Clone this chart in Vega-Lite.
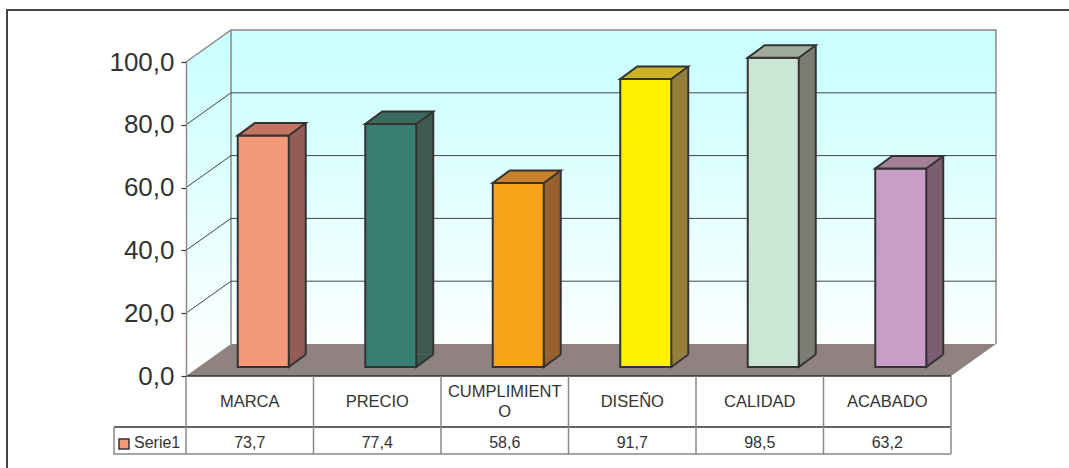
{
  "$schema": "https://vega.github.io/schema/vega-lite/v6.json",
  "width": 765,
  "height": 314,
  "autosize": {"type": "none"},
  "padding": {"left": 186, "top": 62, "right": 118, "bottom": 92},
  "background": "white",
  "config": {
    "view": {"stroke": null},
    "font": "Liberation Sans",
    "locale": {"number": {"decimal": ",", "thousands": ".", "grouping": [3], "currency": ["", " €"]}},
    "axis": {"title": null}
  },
  "data": {
    "values": [
      {"cat": "MARCA", "value": 73.7},
      {"cat": "PRECIO", "value": 77.4},
      {"cat": "CUMPLIMIENTO", "value": 58.6},
      {"cat": "DISEÑO", "value": 91.7},
      {"cat": "CALIDAD", "value": 98.5},
      {"cat": "ACABADO", "value": 63.2}
    ]
  },
  "resolve": {"scale": {"fill": "independent"}},
  "layer": [
    {
      "data": {"values": [{}]},
      "mark": {"type": "point", "shape": "M0,0 L0,-314 L45,-346 L810,-346 L810,-32 L45,-32 Z", "size": 4, "filled": true, "opacity": 1, "strokeWidth": 0,
        "fill": {"gradient": "linear", "x1": 0, "y1": 0, "x2": 0, "y2": 1, "stops": [{"offset": 0, "color": "#c8ffff"}, {"offset": 1, "color": "#ffffff"}]}},
      "encoding": {
        "x": {"datum": "MARCA", "type": "nominal", "bandPosition": 0, "scale": {"domain": ["MARCA", "PRECIO", "CUMPLIMIENTO", "DISEÑO", "CALIDAD", "ACABADO"], "paddingInner": 0, "paddingOuter": 0}},
        "y": {"datum": 0, "type": "quantitative", "scale": {"domain": [0, 100], "nice": false}}
      }
    },
    {
      "data": {"values": [{}]},
      "mark": {"type": "point", "shape": "M0,-314 L45,-346 L810,-346 L810,-32 M45,-346 L45,-32", "size": 4, "filled": false, "opacity": 1, "stroke": "#8e8886", "strokeWidth": 1.5},
      "encoding": {
        "x": {"datum": "MARCA", "type": "nominal", "bandPosition": 0, "scale": {"domain": ["MARCA", "PRECIO", "CUMPLIMIENTO", "DISEÑO", "CALIDAD", "ACABADO"], "paddingInner": 0, "paddingOuter": 0}},
        "y": {"datum": 0, "type": "quantitative", "scale": {"domain": [0, 100], "nice": false}}
      }
    },
    {
      "data": {"values": [{"v": 20}, {"v": 40}, {"v": 60}, {"v": 80}]},
      "mark": {"type": "point", "shape": "M0,0 L45,-32 L810,-32", "size": 4, "filled": false, "opacity": 1, "stroke": "#444444", "strokeWidth": 1},
      "encoding": {
        "x": {"datum": "MARCA", "type": "nominal", "bandPosition": 0, "scale": {"domain": ["MARCA", "PRECIO", "CUMPLIMIENTO", "DISEÑO", "CALIDAD", "ACABADO"], "paddingInner": 0, "paddingOuter": 0}},
        "y": {"field": "v", "type": "quantitative", "scale": {"domain": [0, 100], "nice": false}}
      }
    },
    {
      "data": {"values": [{}]},
      "mark": {"type": "point", "shape": "M0,0 L765,0 L810,-32 L45,-32 Z", "size": 4, "filled": true, "opacity": 1, "strokeWidth": 0, "fill": "#8f8280"},
      "encoding": {
        "x": {"datum": "MARCA", "type": "nominal", "bandPosition": 0, "scale": {"domain": ["MARCA", "PRECIO", "CUMPLIMIENTO", "DISEÑO", "CALIDAD", "ACABADO"], "paddingInner": 0, "paddingOuter": 0}},
        "y": {"datum": 0, "type": "quantitative", "scale": {"domain": [0, 100], "nice": false}}
      }
    },
    {
      "mark": {"type": "bar", "width": 17, "xOffset": 47.5, "yOffset": -21.5, "y2Offset": -21.5, "opacity": 1, "strokeWidth": 0},
      "encoding": {
        "x": {"field": "cat", "type": "nominal", "scale": {"domain": ["MARCA", "PRECIO", "CUMPLIMIENTO", "DISEÑO", "CALIDAD", "ACABADO"], "paddingInner": 0, "paddingOuter": 0}},
        "y": {"field": "value", "type": "quantitative", "scale": {"domain": [0, 100], "nice": false}},
        "y2": {"datum": 0},
        "fill": {"field": "cat", "type": "nominal", "legend": null, "scale": {"domain": ["MARCA", "PRECIO", "CUMPLIMIENTO", "DISEÑO", "CALIDAD", "ACABADO"], "range": ["#925c54", "#3d5a51", "#99602f", "#94803c", "#7b7c72", "#7d5d72"]}}
      }
    },
    {
      "mark": {"type": "point", "shape": "M0,-12.5 L0,0 L17,-12.5", "size": 4, "filled": true, "opacity": 1, "xOffset": 39, "yOffset": -9, "stroke": "#333333", "strokeWidth": 2},
      "encoding": {
        "x": {"field": "cat", "type": "nominal", "scale": {"domain": ["MARCA", "PRECIO", "CUMPLIMIENTO", "DISEÑO", "CALIDAD", "ACABADO"], "paddingInner": 0, "paddingOuter": 0}},
        "y": {"datum": 0, "type": "quantitative", "scale": {"domain": [0, 100], "nice": false}},
        "fill": {"field": "cat", "type": "nominal", "legend": null, "scale": {"domain": ["MARCA", "PRECIO", "CUMPLIMIENTO", "DISEÑO", "CALIDAD", "ACABADO"], "range": ["#925c54", "#3d5a51", "#99602f", "#94803c", "#7b7c72", "#7d5d72"]}}
      }
    },
    {
      "mark": {"type": "rule", "xOffset": 56, "yOffset": -21.5, "y2Offset": -21.5, "stroke": "#333333", "strokeWidth": 2},
      "encoding": {
        "x": {"field": "cat", "type": "nominal", "scale": {"domain": ["MARCA", "PRECIO", "CUMPLIMIENTO", "DISEÑO", "CALIDAD", "ACABADO"], "paddingInner": 0, "paddingOuter": 0}},
        "y": {"field": "value", "type": "quantitative", "scale": {"domain": [0, 100], "nice": false}},
        "y2": {"datum": 0}
      }
    },
    {
      "mark": {"type": "bar", "width": 51, "xOffset": 13.5, "yOffset": -9, "y2Offset": -9, "opacity": 1, "stroke": "#333333", "strokeWidth": 2},
      "encoding": {
        "x": {"field": "cat", "type": "nominal", "scale": {"domain": ["MARCA", "PRECIO", "CUMPLIMIENTO", "DISEÑO", "CALIDAD", "ACABADO"], "paddingInner": 0, "paddingOuter": 0},
          "axis": {"orient": "bottom", "domain": false, "ticks": false, "bandPosition": 0.5, "labelAlign": "center", "labelFlush": false, "labelAngle": 0,
            "labelPadding": {"condition": {"test": "datum.value === 'CUMPLIMIENTO'", "value": 15}, "value": 25},
            "labelBaseline": "middle", "labelFontSize": 16.5, "labelColor": "#333333", "labelLineHeight": 20, "labelFont": "Liberation Sans", "zindex": 1,
            "labelExpr": "datum.value == 'CUMPLIMIENTO' ? ['CUMPLIMIENT', 'O'] : datum.value"}},
        "y": {"field": "value", "type": "quantitative", "scale": {"domain": [0, 100], "nice": false},
          "axis": {"values": [0, 20, 40, 60, 80, 100], "format": ".1f", "grid": false, "labelFontSize": 26, "labelColor": "#333333", "labelFont": "Liberation Sans", "tickSize": 5, "tickColor": "#333333", "tickWidth": 1.2, "domainColor": "#8e8886", "domainWidth": 1.5, "labelPadding": 7, "zindex": 1}},
        "y2": {"datum": 0},
        "fill": {"field": "cat", "type": "nominal", "legend": null, "scale": {"domain": ["MARCA", "PRECIO", "CUMPLIMIENTO", "DISEÑO", "CALIDAD", "ACABADO"], "range": ["#f4987a", "#377f73", "#f8a51c", "#fff200", "#cce6d6", "#c89dc8"]}}
      }
    },
    {
      "mark": {"type": "point", "shape": "M-25.5,0 L25.5,0 L42.5,-12.5 L-8.5,-12.5 Z", "size": 4, "filled": true, "opacity": 1, "xOffset": 13.5, "yOffset": -9, "stroke": "#333333", "strokeWidth": 2},
      "encoding": {
        "x": {"field": "cat", "type": "nominal", "scale": {"domain": ["MARCA", "PRECIO", "CUMPLIMIENTO", "DISEÑO", "CALIDAD", "ACABADO"], "paddingInner": 0, "paddingOuter": 0}},
        "y": {"field": "value", "type": "quantitative", "scale": {"domain": [0, 100], "nice": false}},
        "fill": {"field": "cat", "type": "nominal", "legend": null, "scale": {"domain": ["MARCA", "PRECIO", "CUMPLIMIENTO", "DISEÑO", "CALIDAD", "ACABADO"], "range": ["#c47462", "#3b6b5f", "#c8812c", "#c9b226", "#a0ab9b", "#a47f99"]}}
      }
    },
    {
      "data": {"values": [{}]},
      "mark": {"type": "point", "shape": "M0,0 L765,0 M-72,51 L765,51", "size": 4, "filled": false, "opacity": 1, "stroke": "#333333", "strokeWidth": 1.5},
      "encoding": {
        "x": {"datum": "MARCA", "type": "nominal", "bandPosition": 0, "scale": {"domain": ["MARCA", "PRECIO", "CUMPLIMIENTO", "DISEÑO", "CALIDAD", "ACABADO"], "paddingInner": 0, "paddingOuter": 0}},
        "y": {"datum": 0, "type": "quantitative", "scale": {"domain": [0, 100], "nice": false}}
      }
    },
    {
      "data": {"values": [{}]},
      "mark": {"type": "point", "shape": "M-72,51 L-72,78 L765,78 M765,0 L765,78", "size": 4, "filled": false, "opacity": 1, "stroke": "#8c8888", "strokeWidth": 1.5},
      "encoding": {
        "x": {"datum": "MARCA", "type": "nominal", "bandPosition": 0, "scale": {"domain": ["MARCA", "PRECIO", "CUMPLIMIENTO", "DISEÑO", "CALIDAD", "ACABADO"], "paddingInner": 0, "paddingOuter": 0}},
        "y": {"datum": 0, "type": "quantitative", "scale": {"domain": [0, 100], "nice": false}}
      }
    },
    {
      "mark": {"type": "rule", "y2Offset": 78, "stroke": "#8c8888", "strokeWidth": 1.5},
      "encoding": {
        "x": {"field": "cat", "type": "nominal", "bandPosition": 0, "scale": {"domain": ["MARCA", "PRECIO", "CUMPLIMIENTO", "DISEÑO", "CALIDAD", "ACABADO"], "paddingInner": 0, "paddingOuter": 0}},
        "y": {"datum": 0, "type": "quantitative", "scale": {"domain": [0, 100], "nice": false}},
        "y2": {"datum": 0}
      }
    },
    {
      "mark": {"type": "text", "yOffset": 66.5, "fontSize": 16, "color": "#333333", "align": "center", "baseline": "middle", "font": "Liberation Sans"},
      "encoding": {
        "x": {"field": "cat", "type": "nominal", "scale": {"domain": ["MARCA", "PRECIO", "CUMPLIMIENTO", "DISEÑO", "CALIDAD", "ACABADO"], "paddingInner": 0, "paddingOuter": 0}},
        "y": {"datum": 0, "type": "quantitative", "scale": {"domain": [0, 100], "nice": false}},
        "text": {"field": "value", "type": "quantitative", "format": ".1f"}
      }
    },
    {
      "data": {"values": [{"serie": "Serie1"}]},
      "mark": {"type": "point", "shape": "square", "size": 100, "filled": true, "opacity": 1, "fill": "#f4987a", "stroke": "#333333", "strokeWidth": 1.5, "xOffset": -62, "yOffset": 68},
      "encoding": {
        "x": {"datum": "MARCA", "type": "nominal", "bandPosition": 0, "scale": {"domain": ["MARCA", "PRECIO", "CUMPLIMIENTO", "DISEÑO", "CALIDAD", "ACABADO"], "paddingInner": 0, "paddingOuter": 0}},
        "y": {"datum": 0, "type": "quantitative", "scale": {"domain": [0, 100], "nice": false}}
      }
    },
    {
      "data": {"values": [{"serie": "Serie1"}]},
      "mark": {"type": "text", "xOffset": -52, "yOffset": 66.5, "fontSize": 16, "color": "#333333", "align": "left", "baseline": "middle", "font": "Liberation Sans"},
      "encoding": {
        "x": {"datum": "MARCA", "type": "nominal", "bandPosition": 0, "scale": {"domain": ["MARCA", "PRECIO", "CUMPLIMIENTO", "DISEÑO", "CALIDAD", "ACABADO"], "paddingInner": 0, "paddingOuter": 0}},
        "y": {"datum": 0, "type": "quantitative", "scale": {"domain": [0, 100], "nice": false}},
        "text": {"field": "serie", "type": "nominal"}
      }
    },
    {
      "data": {"values": [{}]},
      "mark": {"type": "point", "shape": "M-179,92 L-179,-366 L883,-366", "size": 4, "filled": false, "opacity": 1, "stroke": "#444444", "strokeWidth": 2},
      "encoding": {
        "x": {"datum": "MARCA", "type": "nominal", "bandPosition": 0, "scale": {"domain": ["MARCA", "PRECIO", "CUMPLIMIENTO", "DISEÑO", "CALIDAD", "ACABADO"], "paddingInner": 0, "paddingOuter": 0}},
        "y": {"datum": 0, "type": "quantitative", "scale": {"domain": [0, 100], "nice": false}}
      }
    }
  ]
}
